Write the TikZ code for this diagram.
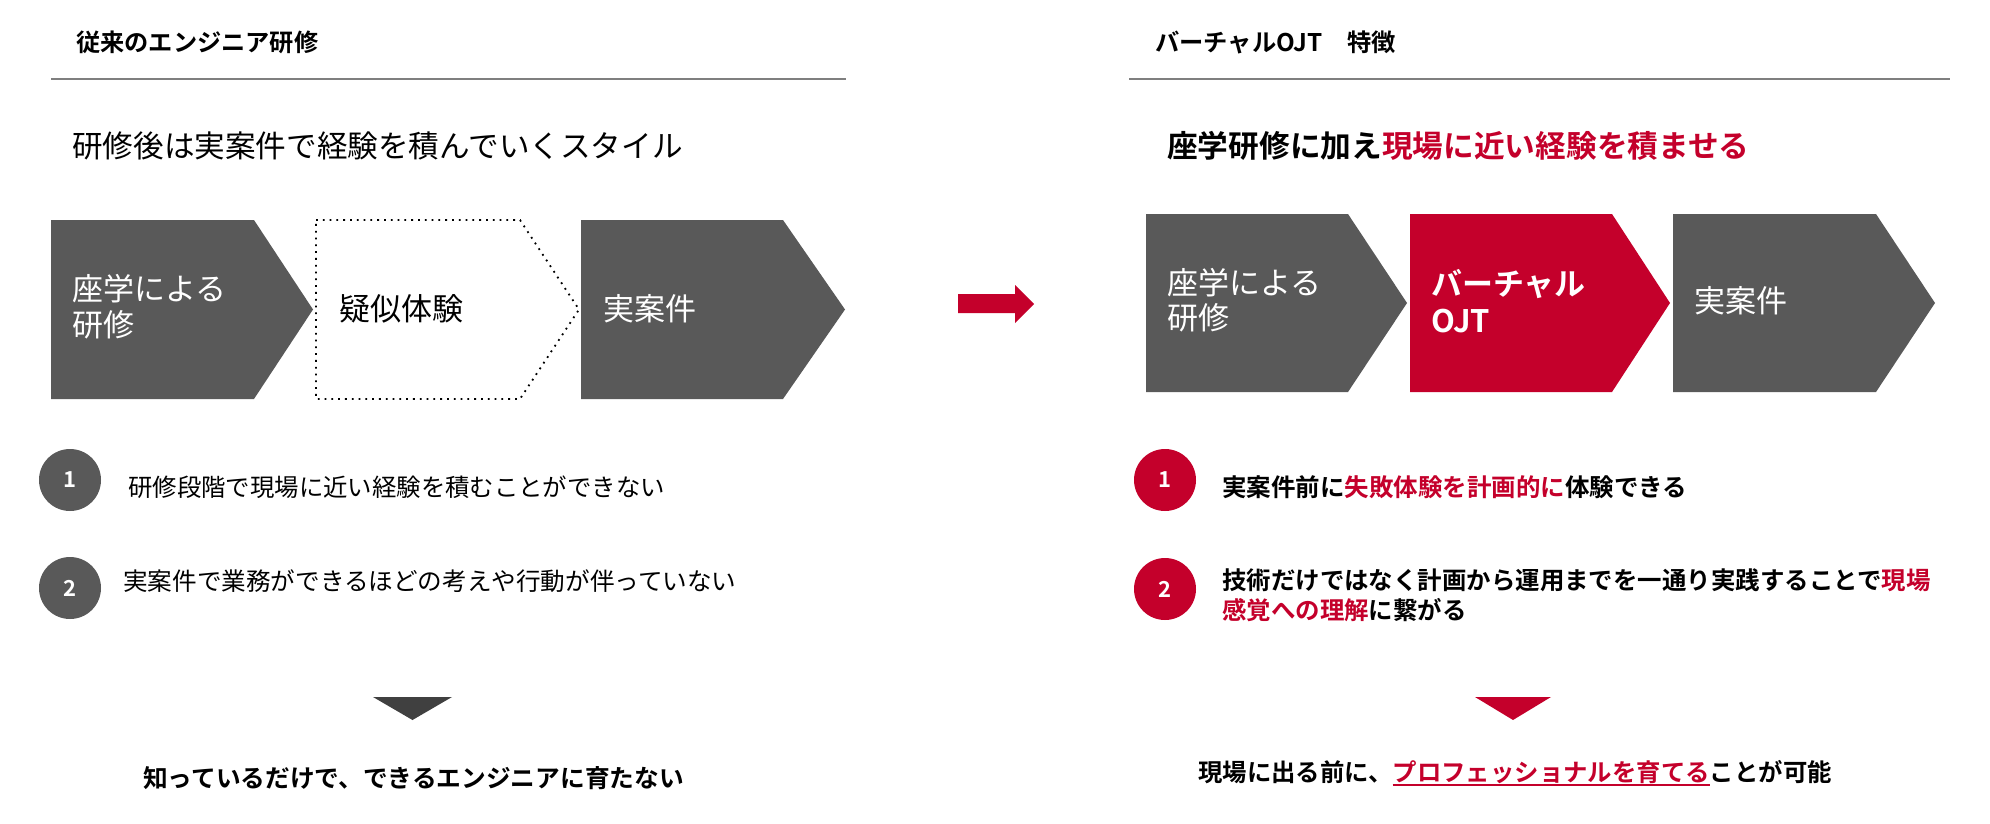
\documentclass[tikz,border=0pt]{standalone}
\usepackage{fontspec}
\setmainfont{Noto Sans CJK JP}[BoldFont={* Bold}]
\definecolor{cgray}{HTML}{595959}
\definecolor{cred}{HTML}{C4002B}
\definecolor{cdark}{HTML}{404040}
\definecolor{crule}{HTML}{7F7F7F}
\newcommand\fsz[2]{\fontsize{#1}{#2}\selectfont}
\newcommand\redul[1]{\setbox0\hbox{#1}\rlap{\color{cred}\rule[-5pt]{\wd0}{2pt}}\box0}
\begin{document}
\begin{tikzpicture}[x=1pt,y=-1pt,
  txt/.style={anchor=west,inner sep=0pt,align=left},
  numc/.style={circle,minimum size=62pt,inner sep=0pt,text=white,font={\fsz{22}{22}\bfseries}},
  rulel/.style={draw=crule,line width=2pt},
  dotbox/.style={draw=black,line width=1.8pt,dash pattern=on 1.8pt off 5pt}]
\fill[white] (0,0) rectangle (1990,824);
\useasboundingbox (0,0) rectangle (1990,824);

% ---------- left panel ----------
\node[txt,font={\fsz{24.2}{24}\bfseries}] (headL) at (76,42) {従来のエンジニア研修};
\draw[rulel] (51,79) -- (846,79);
\node[txt,font={\fsz{30.6}{30}}] (subL) at (72,146) {研修後は実案件で経験を積んでいくスタイル};

\fill[cgray] (51,220) -- (254,220) -- (313,309.5) -- (254,399) -- (51,399) -- cycle;
\path[dotbox] (316,220) -- (520,220) -- (579,309.5) -- (520,399) -- (316,399) -- cycle;
\fill[cgray] (581,220) -- (783,220) -- (845,309.5) -- (783,399) -- (581,399) -- cycle;
\node[txt,text=white,font={\fsz{31}{36}}] (cL1) at (72,307) {座学による\\研修};
\node[txt,font={\fsz{31}{36}}] (cL2) at (339,309) {疑似体験};
\node[txt,text=white,font={\fsz{31}{36}}] (cL3) at (603,309) {実案件};

\node[numc,fill=cgray] (nL1) at (70,480) {1};
\node[numc,fill=cgray] (nL2) at (70,588) {2};
\node[txt,font={\fsz{24.4}{24}}] (iL1) at (128,487) {研修段階で現場に近い経験を積むことができない};
\node[txt,font={\fsz{24.6}{24}}] (iL2) at (123,581) {実案件で業務ができるほどの考えや行動が伴っていない};

\fill[cdark] (373,697) -- (452,697) -- (412.5,720) -- cycle;
\node[txt,font={\fsz{24.7}{24.5}\bfseries}] (botL) at (143,778) {知っているだけで、できるエンジニアに育たない};

% ---------- arrow ----------
\fill[cred] (958,294) -- (1015,294) -- (1015,285) -- (1034,304) -- (1015,323) -- (1015,313) -- (958,313) -- cycle;

% ---------- right panel ----------
\node[txt,font={\fsz{24.3}{24}\bfseries}] (headR) at (1155,42) {バーチャルOJT　特徴};
\draw[rulel] (1129,79) -- (1950,79);
\node[txt,font={\fsz{30.7}{30}\bfseries}] (subR) at (1167,146) {座学研修に加え\textcolor{cred}{現場に近い経験を積ませる}};

\fill[cgray] (1146,214) -- (1348,214) -- (1407,303) -- (1348,392) -- (1146,392) -- cycle;
\fill[cred] (1410,214) -- (1612,214) -- (1670,303) -- (1612,392) -- (1410,392) -- cycle;
\fill[cgray] (1673,214) -- (1876,214) -- (1935,303) -- (1876,392) -- (1673,392) -- cycle;
\node[txt,text=white,font={\fsz{31}{35}}] (cR1) at (1167,300) {座学による\\研修};
\node[txt,text=white,font={\fsz{31}{37}\bfseries}] (cR2) at (1431,301) {バーチャル\\OJT};
\node[txt,text=white,font={\fsz{31}{35}}] (cR3) at (1694,301) {実案件};

\node[numc,fill=cred] (nR1) at (1165,480) {1};
\node[numc,fill=cred] (nR2) at (1165,589) {2};
\node[txt,font={\fsz{24.5}{24}\bfseries}] (iR1) at (1222,487) {実案件前に\textcolor{cred}{失敗体験を計画的に}体験できる};
\node[txt,font={\fsz{24.45}{30}\bfseries}] (iR2) at (1222,595) {技術だけではなく計画から運用までを一通り実践することで\textcolor{cred}{現場}\\\textcolor{cred}{感覚への理解}に繋がる};

\fill[cred] (1475,697) -- (1551,697) -- (1513,720) -- cycle;
\node[txt,font={\fsz{24.4}{24.4}\bfseries}] (botR) at (1198,773) {現場に出る前に、\redul{\textcolor{cred}{プロフェッショナルを育てる}}ことが可能};
\end{tikzpicture}
\end{document}
